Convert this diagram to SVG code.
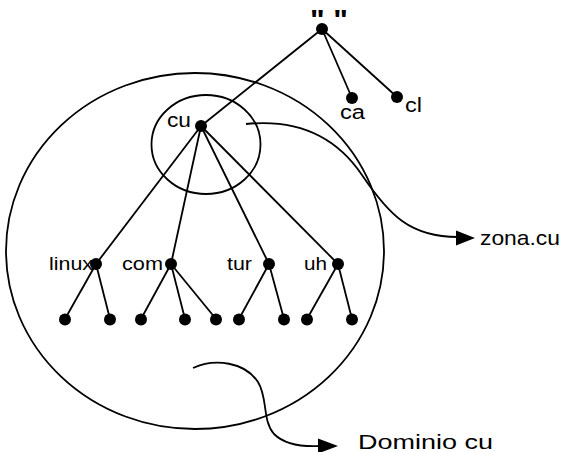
<svg xmlns="http://www.w3.org/2000/svg" width="576" height="452" viewBox="0 0 576 452">
<style>
.e{stroke:#000;stroke-width:1.8;fill:none}
.c{stroke:#000;stroke-width:1.8;fill:none}
.d{fill:#000}
.t{font-family:"Liberation Sans",Arial,sans-serif;fill:#000}
.s{font-size:19px}
.m{font-size:20px}
.b{font-size:21px}
</style>
<rect width="576" height="452" fill="#fff"/>
<g id="regions">
<ellipse id="dominio" class="c" cx="195" cy="251" rx="189" ry="178"/>
<ellipse id="zona" class="c" cx="206" cy="144.5" rx="54.5" ry="49.5"/>
</g>
<g id="connectors">
<line class="e" x1="322" y1="29" x2="201" y2="126"/>
<line class="e" x1="322" y1="29" x2="352" y2="98"/>
<line class="e" x1="322" y1="29" x2="397" y2="97"/>
<line class="e" x1="201" y1="126" x2="96" y2="264"/>
<line class="e" x1="201" y1="126" x2="171" y2="264"/>
<line class="e" x1="201" y1="126" x2="269" y2="264"/>
<line class="e" x1="201" y1="126" x2="338" y2="264"/>
<line class="e" x1="96" y1="264" x2="65" y2="319"/>
<line class="e" x1="96" y1="264" x2="110" y2="319"/>
<line class="e" x1="171" y1="264" x2="141" y2="319"/>
<line class="e" x1="171" y1="264" x2="185" y2="319"/>
<line class="e" x1="171" y1="264" x2="216" y2="319"/>
<line class="e" x1="269" y1="264" x2="239" y2="319"/>
<line class="e" x1="269" y1="264" x2="284" y2="319"/>
<line class="e" x1="338" y1="264" x2="307" y2="319"/>
<line class="e" x1="338" y1="264" x2="352" y2="319"/>
<path class="c" d="M246,124 C295,119 335,135 362,175 S410,237 458,237"/>
<polygon class="d" points="475,238 456,230.5 456,245.5"/>
<path class="c" d="M193,368 C215,358 245,362 258,382 C268,398 262,420 274,434 C284,444 300,447 320,446"/>
<polygon class="d" points="338,446 318,438.5 318,453.5"/>
</g>
<g id="root"><circle class="d" cx="322" cy="29" r="6"/><text class="t" x="310" y="29" font-size="28" font-weight="bold" textLength="38" lengthAdjust="spacingAndGlyphs">" "</text></g>
<g id="n-ca"><circle class="d" cx="352" cy="98" r="6"/><text class="t m" x="340" y="118.5" textLength="25" lengthAdjust="spacingAndGlyphs">ca</text></g>
<g id="n-cl"><circle class="d" cx="397" cy="97" r="6"/><text class="t m" x="405" y="111.5" textLength="17" lengthAdjust="spacingAndGlyphs">cl</text></g>
<g id="n-cu"><circle class="d" cx="201" cy="126" r="6"/><text class="t m" x="167" y="127" textLength="24" lengthAdjust="spacingAndGlyphs">cu</text></g>
<g id="n-linux"><circle class="d" cx="96" cy="264" r="6"/><text class="t s" x="49" y="269.5" textLength="44" lengthAdjust="spacingAndGlyphs">linux</text></g>
<g id="n-com"><circle class="d" cx="171" cy="264" r="6"/><text class="t s" x="122" y="269.5" textLength="41" lengthAdjust="spacingAndGlyphs">com</text></g>
<g id="n-tur"><circle class="d" cx="269" cy="264" r="6"/><text class="t s" x="227" y="269.5" textLength="25" lengthAdjust="spacingAndGlyphs">tur</text></g>
<g id="n-uh"><circle class="d" cx="338" cy="264" r="6"/><text class="t s" x="304" y="269.5" textLength="23" lengthAdjust="spacingAndGlyphs">uh</text></g>
<g id="leaves">
<circle class="d" cx="65" cy="319.5" r="6"/>
<circle class="d" cx="110" cy="319.5" r="6"/>
<circle class="d" cx="141" cy="319.5" r="6"/>
<circle class="d" cx="185" cy="319.5" r="6"/>
<circle class="d" cx="216" cy="319.5" r="6"/>
<circle class="d" cx="239" cy="319.5" r="6"/>
<circle class="d" cx="284" cy="319.5" r="6"/>
<circle class="d" cx="307" cy="319.5" r="6"/>
<circle class="d" cx="352" cy="319.5" r="6"/>
</g>
<g id="label-zona"><text class="t b" x="480" y="245" textLength="80" lengthAdjust="spacingAndGlyphs">zona.cu</text></g>
<g id="label-dominio"><text class="t b" x="358" y="449" textLength="135" lengthAdjust="spacingAndGlyphs">Dominio cu</text></g>
</svg>
